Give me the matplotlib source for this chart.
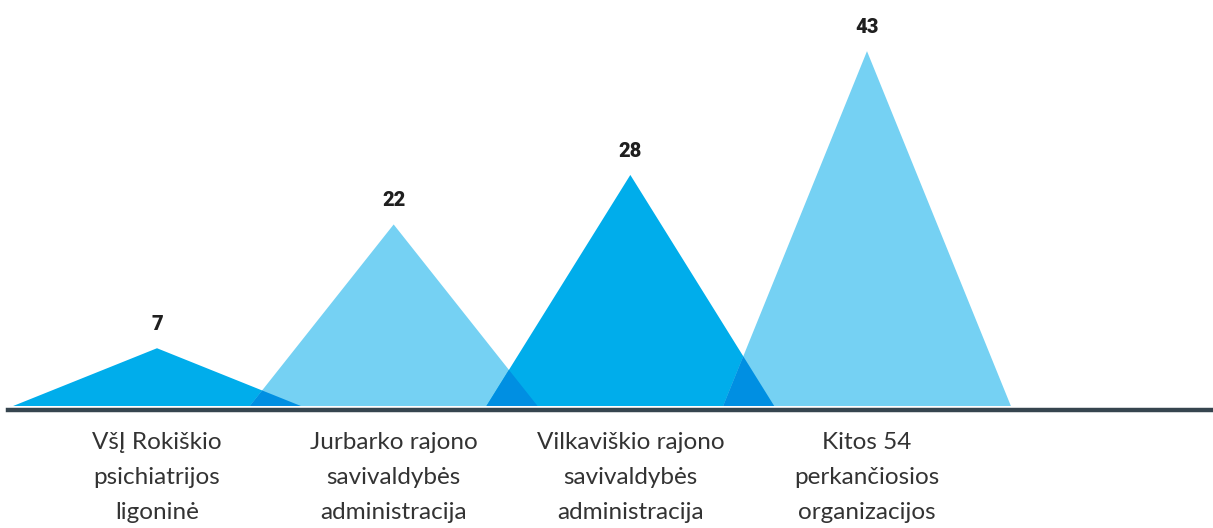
import matplotlib
matplotlib.use("Agg")
import matplotlib.pyplot as plt
from matplotlib.lines import Line2D
import numpy as np

categories = [
    "VšĮ Rokiškio\npsichiatrijos\nligoninė",
    "Jurbarko rajono\nsavivaldybės\nadministracija",
    "Vilkaviškio rajono\nsavivaldybės\nadministracija",
    "Kitos 54\nperkančiosios\norganizacijos",
]
values = [7, 22, 28, 43]

dark = "#00ADEB"
light = "#75D1F3"
overlap = "#008FE2"
colors = [dark, light, dark, light]
half_w = 0.608

fig = plt.figure(figsize=(12.13, 5.28), dpi=100)
ax = fig.add_axes([8 / 1213, 122 / 528, 1205 / 1213, 406 / 528])
ax.set_xlim(-0.6296, 4.462)
ax.set_ylim(0, 49.2)
ax.axis("off")

xs = np.arange(len(values))
for x, v, c in zip(xs, values, colors):
    ax.fill([x - half_w, x, x + half_w], [0, v, 0], color=c, lw=0, zorder=2)
    ax.annotate(str(v), (x, v), xytext=(0, 13), textcoords="offset points",
                ha="center", va="baseline", fontsize=14.5, fontweight="heavy",
                family=["Roboto", "Lato"], color="#1f1f1f")

# darker where neighbouring triangles overlap
for i in range(len(values) - 1):
    x0, v0 = xs[i], values[i]
    x1, v1 = xs[i + 1], values[i + 1]
    a = x1 - half_w
    b = x0 + half_w
    if b <= a:
        continue
    # right edge of i meets left edge of i+1
    xi = (v0 * b + v1 * a) / (v0 + v1)
    yi = v0 * (b - xi) / half_w
    ax.fill([a, xi, b], [0, yi, 0], color=overlap, lw=0, zorder=3)

for x, lab in zip(xs, categories):
    ax.annotate(lab, (x, 0), xytext=(0, -19), textcoords="offset points",
                ha="center", va="top", fontsize=17.5, fontweight="normal",
                family="Lato", color="#333333", linespacing=1.8,
                annotation_clip=False)

fig.add_artist(Line2D([8 / 1213, 1.0], [(528 - 409.5) / 528] * 2,
                      color="#36454f", lw=3.2, transform=fig.transFigure))

fig.savefig("out.png", dpi=100)
